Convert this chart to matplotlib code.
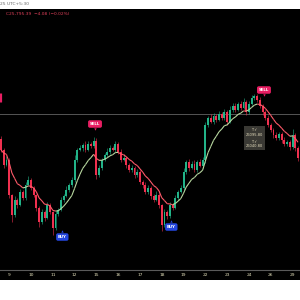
import numpy as np
import pandas as pd
import matplotlib
matplotlib.use("Agg")
import matplotlib.pyplot as plt
from matplotlib.collections import LineCollection
from matplotlib.patches import FancyBboxPatch

# closes per bar (8 bars per session), Dec 8 tail .. Dec 29 head
closes = [26056, 25996, 26016,
          25876, 25796, 25856, 25836, 25888, 25864, 25916, 25936,
          25904, 25876, 25824, 25768, 25808, 25784, 25836, 25808,
          25744, 25800, 25816, 25856, 25872, 25896, 25916, 25936,
          26016, 26056, 26064, 26076, 26056, 26080, 26072, 26092,
          25956, 25984, 26016, 26036, 26048, 26064, 26056, 26080,
          26048, 26016, 26024, 25996, 25976, 25984, 25956, 25968,
          25928, 25916, 25888, 25904, 25872, 25856, 25876, 25836,
          25756, 25808, 25792, 25836, 25824, 25864, 25888, 25904,
          25968, 26008, 25984, 26000, 25976, 26008, 25992, 26016,
          26156, 26184, 26168, 26192, 26176, 26200, 26184, 26208,
          26168, 26216, 26232, 26216, 26240, 26224, 26248, 26208,
          26240, 26264, 26272, 26256, 26232, 26208, 26184, 26156,
          26136, 26116, 26104, 26120, 26096, 26080, 26088, 26068,
          26116, 26064, 26024]
first_open = 26100
# wick lengths above / below the body, in points
wick_hi = [10, 6, 14, 8, 4, 16, 6, 12, 8, 10, 14,
           6, 8, 4, 6, 12, 8, 10, 6, 4, 10, 8, 12, 6, 14, 8, 10,
           18, 8, 12, 6, 16, 10, 8, 14, 10, 12, 8, 6, 14, 10, 8, 12,
           6, 10, 14, 8, 6, 12, 8, 10, 6, 8, 12, 10, 6, 8, 14, 6,
           4, 12, 8, 10, 6, 12, 8, 10, 16, 8, 12, 10, 14, 8, 12, 10,
           12, 8, 14, 10, 6, 12, 8, 10, 8, 14, 10, 12, 8, 10, 16, 6,
           10, 12, 8, 6, 10, 8, 6, 10, 8, 6, 10, 8, 6, 10, 8, 6,
           22, 8, 6]
wick_lo = [8, 12, 6, 14, 28, 8, 12, 6, 10, 8, 6,
           10, 8, 14, 20, 8, 12, 6, 10, 30, 8, 10, 6, 8, 6, 10, 8,
           10, 8, 6, 12, 8, 6, 10, 8, 16, 10, 8, 6, 8, 10, 6, 8,
           10, 8, 6, 12, 10, 8, 14, 8, 10, 12, 8, 10, 12, 8, 6, 14,
           26, 10, 12, 8, 10, 6, 8, 6, 10, 8, 12, 6, 10, 8, 6, 10,
           12, 8, 6, 10, 8, 6, 10, 8, 12, 6, 8, 10, 6, 8, 6, 12,
           8, 6, 8, 10, 8, 12, 10, 8, 10, 12, 8, 10, 12, 8, 10, 12,
           8, 12, 14]

day_labels = ['9', '10', '11', '12', '15', '16', '17', '18', '19',
              '22', '23', '24', '26', '29']
bars_per_day = 8
first_day_bar = 3

sig_bars = [22.5, 34.5, 62.5, 96.5]
sig_price = [25708, 26160, 25748, 26296]
sig_type = ['BUY', 'SELL', 'BUY', 'SELL']
# signal label cut by the left edge
edge_sig_bar = -1.6
edge_sig_price = 26264

tgt_bar = [93.0, 93.0]
tgt_price = [26126, 26080]
tgt_text = ['T \u2713\n26095.80', 'T \u2713\n26040.80']

level = 26200

UP = '#22b388'
DN = '#f0304f'

closes = np.array(closes, dtype=float)
opens = np.concatenate([[first_open], closes[:-1]])
highs = np.maximum(opens, closes) + np.array(wick_hi)
lows = np.minimum(opens, closes) - np.array(wick_lo)
x = np.arange(len(closes))

fig = plt.figure(figsize=(3, 3), dpi=100, facecolor='white')
ax = fig.add_axes([0, 30 / 300, 1, 261 / 300])
ax.set_facecolor('black')
ax.set_xlim(-0.37, 109.73)
ax.set_ylim(25576, 26620)
for s in ax.spines.values():
    s.set_visible(False)
ax.set_xticks([])
ax.set_yticks([])

ax.axhline(level, color='#555555', lw=0.7, zorder=1)

up = closes >= opens
h = closes - opens
h[np.abs(h) < 2] = 2
ax.vlines(x[up], lows[up], highs[up], color=UP, lw=0.4, zorder=2)
ax.vlines(x[~up], lows[~up], highs[~up], color=DN, lw=0.4, zorder=2)
ax.bar(x[up], h[up], bottom=opens[up], width=0.7, color=UP, lw=0, zorder=3)
ax.bar(x[~up], h[~up], bottom=opens[~up], width=0.7, color=DN, lw=0, zorder=3)

# trend line coloured by direction
ema = pd.Series(closes).ewm(span=9, adjust=False).mean().values
pts = np.column_stack([x, ema])
segs = np.stack([pts[:-1], pts[1:]], axis=1)
cols = ['#b8d8a0' if ema[i + 1] >= ema[i] else '#ff5a6a' for i in range(len(segs))]
ax.add_collection(LineCollection(segs, colors=cols, lw=0.8, zorder=4))

for b, p, t in zip(sig_bars, sig_price, sig_type):
    fc = '#e91e63' if t == 'SELL' else '#2447e0'
    ax.text(b, p, t, color='white', fontsize=2.8, ha='center', va='center',
            fontweight='bold', zorder=6,
            bbox=dict(boxstyle='round,pad=0.45', fc=fc, ec='none'))
    if t == 'SELL':
        ax.scatter([b], [p - 22], marker='v', s=3, color=fc, lw=0, zorder=6)
    else:
        ax.scatter([b], [p + 22], marker='^', s=3, color=fc, lw=0, zorder=6)

ax.add_patch(FancyBboxPatch((edge_sig_bar - 2, edge_sig_price - 18), 4, 36,
                            boxstyle='round,pad=0', fc='#e91e63', ec='none', zorder=6))

for b, p, t in zip(tgt_bar, tgt_price, tgt_text):
    ax.text(b, p, t, color='#e8e0c0', fontsize=2.6, ha='center', va='center',
            linespacing=1.2, zorder=6,
            bbox=dict(boxstyle='square,pad=0.5', fc='#3a3934', ec='none'))

fig.text(0.02, 1 - 14 / 300, 'C25,795.39  \u22124.08 (\u22120.02%)', color='#e0405a',
         fontsize=3.2, ha='left', va='center')
fig.text(0.0, 1 - 4 / 300, '25 UTC+5:30', color='#666666', fontsize=3.2,
         ha='left', va='center')

# time axis strip
axx = fig.add_axes([0, 20 / 300, 1, 10 / 300])
axx.set_facecolor('black')
axx.set_xlim(ax.get_xlim())
axx.set_ylim(0, 1)
axx.set_xticks([])
axx.set_yticks([])
for k, s in axx.spines.items():
    s.set_visible(k == 'top')
axx.spines['top'].set_color('#5a5a5a')
axx.spines['top'].set_linewidth(0.8)
for k, lab in enumerate(day_labels):
    axx.text(first_day_bar + k * bars_per_day, 0.45, lab, color='#e0dcb8',
             fontsize=3.2, ha='center', va='center')

fig.savefig('out.png', dpi=100, facecolor='white')
